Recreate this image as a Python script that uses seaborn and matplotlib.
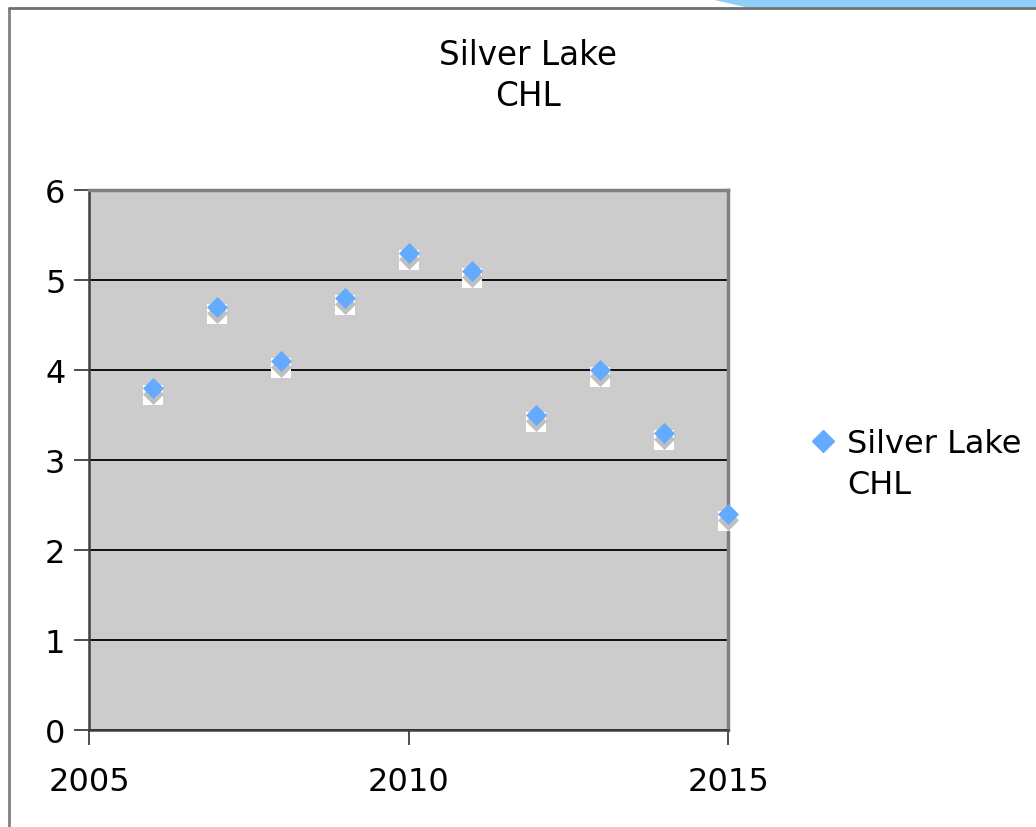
import numpy as np
import pandas as pd
import matplotlib.pyplot as plt
import matplotlib.transforms as mtransforms
from matplotlib.lines import Line2D
from matplotlib.patches import Polygon
import seaborn as sns

# data
years = [2006, 2007, 2008, 2009, 2010, 2011, 2012, 2013, 2014, 2015]
chl = [3.8, 4.7, 4.1, 4.8, 5.3, 5.1, 3.5, 4.0, 3.3, 2.4]
series_name = "Silver Lake\nCHL"
df = pd.DataFrame({'Year': years, 'CHL': chl})

sns.set_style("white")
plt.rcParams['font.family'] = ['DejaVu Sans']
plt.rcParams['text.color'] = 'black'

fig = plt.figure(figsize=(10.36, 8.28), dpi=100)
ax = fig.add_axes([89 / 1036, 97 / 828, 639 / 1036, 540 / 828])
ax.set_facecolor('#cccccc')

blue = '#64aaff'
# excel style shadow: white box + grey diamond, then the marker itself
box_tr = mtransforms.offset_copy(ax.transData, fig=fig, x=0, y=-7, units='dots')
shadow_tr = mtransforms.offset_copy(ax.transData, fig=fig, x=0, y=-6, units='dots')
sns.scatterplot(data=df, x='Year', y='CHL', marker='s', s=225, color='white',
                linewidth=0, transform=box_tr, ax=ax, zorder=3, clip_on=False)
sns.scatterplot(data=df, x='Year', y='CHL', marker='D', s=115, color='#b0b0b0',
                linewidth=0, alpha=0.8, transform=shadow_tr, ax=ax, zorder=4,
                clip_on=False)
sns.scatterplot(data=df, x='Year', y='CHL', marker='D', s=115, color=blue,
                linewidth=0, ax=ax, zorder=5, clip_on=False)

ax.set_xlim(2005, 2015)
ax.set_ylim(0, 6)
ax.set_xticks([2005, 2010, 2015])
ax.set_yticks(range(0, 7))
ax.set_xlabel("")
ax.set_ylabel("")
ax.yaxis.grid(True, color='black', linewidth=1.3)
ax.set_axisbelow(True)
ax.tick_params(axis='both', which='major', labelsize=23, length=11, width=1.3,
               color='#404040', labelcolor='black', direction='out')
ax.tick_params(axis='y', pad=6, left=True)
ax.tick_params(axis='x', pad=15, bottom=True)

for side in ['left', 'bottom']:
    ax.spines[side].set_color('#404040')
    ax.spines[side].set_linewidth(1.8)
for side in ['top', 'right']:
    ax.spines[side].set_color('#808080')
    ax.spines[side].set_linewidth(2.5)

fig.text(528 / 1036, 1 - 76 / 828, series_name, ha='center', va='center',
         fontsize=23.5, linespacing=1.3)

# legend: marker next to first line only
handle = Line2D([], [], marker='D', linestyle='none', color=blue, markersize=11)
blank = Line2D([], [], linestyle='none', marker='None')
ax.legend(handles=[handle, blank], labels=series_name.split("\n"),
          loc='center left', bbox_to_anchor=((812 - 89) / 639, (731 - 465) / 540),
          frameon=False, fontsize=23, handlelength=0.7, handletextpad=0.4,
          labelspacing=0.32, borderpad=0, borderaxespad=0, labelcolor='black')

# chart frame and the decorative band at the top right
fig.add_artist(Line2D([9 / 1036, 9 / 1036], [0, 1 - 9 / 828], color='#808080', linewidth=2))
fig.add_artist(Line2D([9 / 1036, 1], [1 - 9 / 828, 1 - 9 / 828], color='#707070', linewidth=2))
fig.add_artist(Polygon([[710 / 1036, 1], [1, 1], [1, 1 - 8 / 828], [745 / 1036, 1 - 8 / 828]],
                       closed=True, facecolor='#8ecffa', edgecolor='none',
                       transform=fig.transFigure))

fig.savefig("out.png", dpi=100)
